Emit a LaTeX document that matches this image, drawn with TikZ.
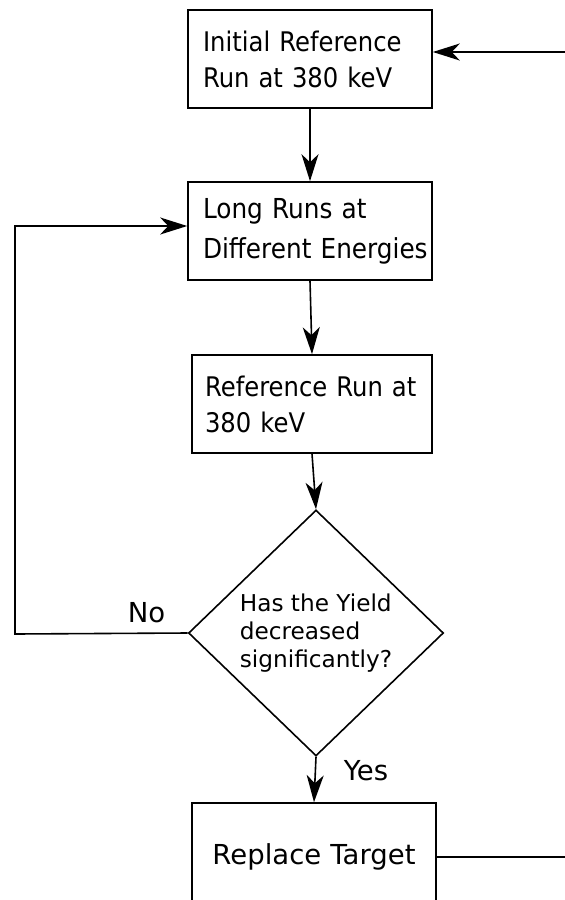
\documentclass[tikz,border=0pt]{standalone}
\usepackage{fontspec}
\setmainfont{DejaVu Sans}
\newfontfamily\condfont[FakeStretch=0.9]{DejaVu Sans}
\usetikzlibrary{shapes.geometric,arrows.meta}
\begin{document}
\begin{tikzpicture}[x=1pt,y=-1pt,
  line width=1.6pt,
  arr/.style={-{Stealth[length=27pt,width=17pt,inset=8pt]}},
  stepbox/.style={draw,rectangle,minimum width=244pt,minimum height=98pt,
    inner xsep=15pt,text width=214pt,align=left,
    font=\condfont\fontsize{27}{36}\selectfont},
  decision/.style={draw,diamond,minimum width=255pt,minimum height=246pt,
    inner sep=0pt,align=left,font=\fontsize{23.2}{28}\selectfont},
  lbl/.style={inner sep=0pt,font=\fontsize{27.5}{32}\selectfont}]
\useasboundingbox (0,0) rectangle (565,900);
\clip (0,0) rectangle (565,900);

% process boxes
\node[stepbox] (b1) at (310,59) {\mbox{Initial Reference}\\\mbox{Run at 380 keV}};
\node[stepbox,font=\condfont\fontsize{27.5}{40}\selectfont] (b2) at (310,231) {\mbox{Long Runs at}\\\mbox{Different Energies}};
\node[stepbox,minimum width=240pt,inner xsep=13pt,text width=214pt] (b3) at (312,404) {\mbox{Reference Run at}\\\mbox{380 keV}};
\node[decision] (d) at (316,633) {Has the Yield\\decreased\\significantly?};
\node[stepbox,align=center,minimum height=108pt,font=\fontsize{27.5}{32}\selectfont] (b4) at (314,857) {Replace Target};

% loose ends of the outer loop
\coordinate (inR) at (565,52);
\coordinate (outR) at (565,857);
\coordinate (loopL) at (15,634);

% connectors
\draw[arr] (inR) -- ([yshift=7pt]b1.east);
\draw[arr] (b1.south) -- (b2.north);
\draw[arr] (b2.south) -- (b3.north);
\draw[arr] (b3.south) -- (d.north);
\draw[arr] (d.south) -- (b4.north);
\draw[arr] (d.west) -- (loopL) |- ([yshift=5pt]b2.west);
\draw (b4.east) -- (outR);

% branch labels
\node[lbl,anchor=base west] (no) at (127,622) {No};
\node[lbl,anchor=base west] (yes) at (343,780) {Yes};
\end{tikzpicture}
\end{document}
